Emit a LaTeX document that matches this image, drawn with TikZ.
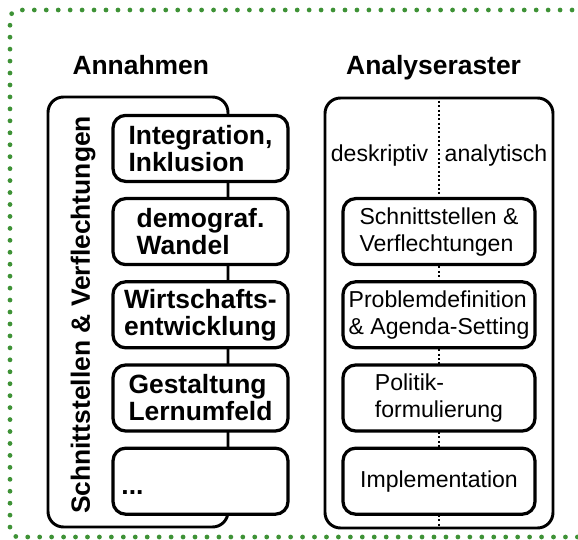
\documentclass[tikz,border=0pt]{standalone}
\usepackage{fontspec}
\setmainfont{Liberation Sans}
\definecolor{rahmengruen}{RGB}{62,146,54}

\begin{document}
\begin{tikzpicture}[
        feld/.style={rectangle, draw, line width=2.3pt, rounded corners=9pt, fill=white,
            minimum width=4.375cm, minimum height=1.65cm, align=left, inner sep=2pt,
            font=\bfseries\fontsize{18.8}{19.2}\selectfont},
        phase/.style={rectangle, draw, line width=2.3pt, rounded corners=9pt, fill=white,
            minimum width=4.8cm, minimum height=1.65cm, align=left, inner sep=2pt,
            font=\fontsize{16.4}{19.2}\selectfont},
        gruppe/.style={rectangle, draw, line width=2.1pt, rounded corners=11pt},
        titel/.style={anchor=base, font=\bfseries\fontsize{18.8}{19.2}\selectfont},
        seite/.style={font=\fontsize{16.4}{19.2}\selectfont},
        trenner/.style={line width=1.4pt, dash pattern=on 1.4pt off 1.7pt},
        rahmen/.style={draw=rahmengruen, line width=3.4pt, line cap=round,
            dash pattern=on 0pt off 8.5pt, rounded corners=6pt}
    ]
    \clip (0,0) rectangle (14.45,13.5);

    % green frame, open to the right
    \draw[rahmen] (14.6,13.25) -- (0.25,13.25) -- (0.25,0.075) -- (14.6,0.075);

    % Annahmen
    \node[titel] (titelA) at (3.52, 11.625) {Annahmen};
    \node[gruppe, minimum width=4.5cm, minimum height=10.75cm] (annahmen) at (3.45, 5.7) {};
    \node[titel, rotate=90] (schnitt) at (2.25, 5.625) {Schnittstellen \& Verflechtungen};

    \node[feld] (integration) at (5.0125, 9.79) {Integration,\\Inklusion};
    \node[feld] (demografie) at (5.0125, 7.71) {demograf.\\Wandel};
    \node[feld] (wirtschaft) at (5.0125, 5.63) {Wirtschafts-\\entwicklung};
    \node[feld] (lernumfeld) at (5.0125, 3.55) {Gestaltung\\Lernumfeld};
    \node[feld, text width=3.95cm] (weitere) at (5.0125, 1.47) {\mbox{}\\...};

    % Analyseraster
    \node[titel] (titelB) at (10.84, 11.625) {Analyseraster};
    \node[gruppe, minimum width=5.7cm, minimum height=10.75cm] (raster) at (10.975, 5.675) {};
    \draw[trenner] (raster.north) -- (raster.south);

    \node[seite] (deskr) at (9.49, 9.6) {deskriptiv};
    \node[seite] (analyt) at (12.4, 9.6) {analytisch};

    \node[phase] (verflechtung) at (10.975, 7.71) {Schnittstellen \&\\Verflechtungen};
    \node[phase] (problem) at (10.975, 5.63) {Problemdefinition\\\& Agenda-Setting};
    \node[phase] (politik) at (10.975, 3.55) {Politik-\\formulierung};
    \node[phase] (implement) at (10.975, 1.47) {Implementation};

\end{tikzpicture}
\end{document}
